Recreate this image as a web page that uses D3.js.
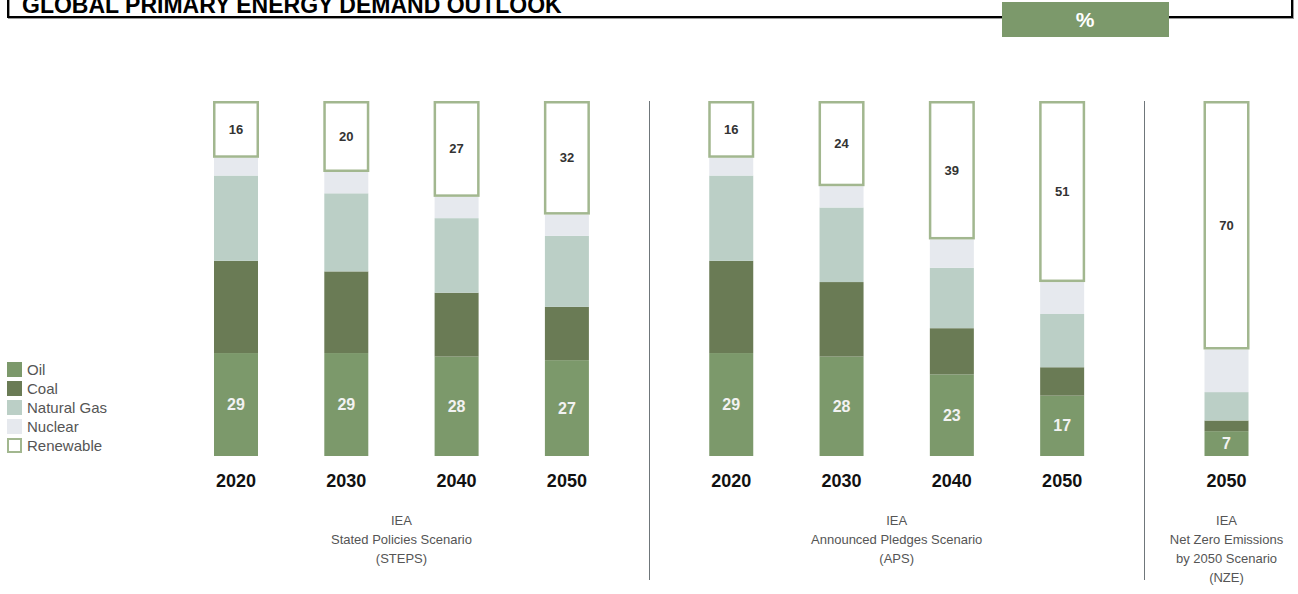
<!DOCTYPE html>
<html>
<head>
<meta charset="utf-8">
<script src="https://cdn.jsdelivr.net/npm/d3@7"></script>
<style>
  body { margin: 0; background: #fff; }
  svg { display: block; font-family: "Liberation Sans", Arial, Helvetica, sans-serif; }
</style>
</head>
<body>
<div id="chart"></div>
<script>
(function () {
   // chart data
   const fuels = ['Oil', 'Coal', 'Natural Gas', 'Nuclear', 'Renewable'];
   const scenarios = ['STEPS', 'APS', 'NZE'];
   const scenarioLabels = [
      ['IEA', 'Stated Policies Scenario', '(STEPS)'],
      ['IEA', 'Announced Pledges Scenario', '(APS)'],
      ['IEA', 'Net Zero Emissions', 'by 2050 Scenario', '(NZE)']
   ];
   const years = [
      ['2020', '2030', '2040', '2050'],
      ['2020', '2030', '2040', '2050'],
      ['2050']
   ];
   // shares per bar, in order Oil, Coal, Natural Gas, Nuclear, Renewable
   const stepsShares = [
      [29, 26, 24, 5, 16],
      [29, 23, 22, 6, 20],
      [28, 18, 21, 6, 27],
      [27, 15, 20, 6, 32]
   ];
   const apsShares = [
      [29, 26, 24, 5, 16],
      [28, 21, 21, 6, 24],
      [23, 13, 17, 8, 39],
      [17, 8, 15, 9, 51]
   ];
   const nzeShares = [
      [7, 3, 8, 12, 70]
   ];
   const shares = [stepsShares, apsShares, nzeShares];

   const colors = ['#7c996b', '#6a7b55', '#bbcfc6', '#e6e9ee', '#ffffff'];
   const renewStroke = '#a2b78f';

   const width = 1298;
   const height = 594;

   const svg = d3.select('#chart')
      .append('svg')
      .attr('width', width)
      .attr('height', height);

   // ---- header strip ----
   svg.append('path')
      .attr('d', 'M9,0V18H1293V0')
      .attr('fill', 'none')
      .attr('stroke', '#999')
      .attr('stroke-width', 2);
   svg.append('path')
      .attr('d', 'M8,0V17H1292V0')
      .attr('fill', 'none')
      .attr('stroke', '#000')
      .attr('stroke-width', 2);
   svg.append('text')
      .attr('x', 22)
      .attr('y', 12.5)
      .attr('font-size', 23)
      .attr('font-weight', 'bold')
      .attr('fill', '#000')
      .text('GLOBAL PRIMARY ENERGY DEMAND OUTLOOK');
   svg.append('rect')
      .attr('x', 1002)
      .attr('y', 2)
      .attr('width', 167)
      .attr('height', 35)
      .attr('fill', '#7c996b');
   svg.append('text')
      .attr('x', 1085)
      .attr('y', 27)
      .attr('text-anchor', 'middle')
      .attr('font-size', 21)
      .attr('font-weight', 'bold')
      .attr('fill', '#fff')
      .text('%');

   // ---- flatten bars with a slot position (extra gap between scenarios) ----
   const groupGap = 1.49;
   const bars = [];
   let slot = 0;
   shares.forEach((group, g) => {
      if (g > 0) slot += groupGap - 1;
      group.forEach((vals, i) => {
         bars.push({ group: g, year: years[g][i], vals: vals, slot: slot });
         slot += 1;
      });
   });
   const lastSlot = bars[bars.length - 1].slot;

   const x = d3.scaleLinear()
      .domain([0, lastSlot])
      .range([236, 1226.5]);
   const y = d3.scaleLinear()
      .domain([0, 100])
      .range([456, 101]);
   const barW = 44;

   // stack each bar
   bars.forEach(b => {
      let acc = 0;
      b.segs = b.vals.map((v, k) => {
         const s = { fuel: k, v: v, y0: acc, y1: acc + v };
         acc += v;
         return s;
      });
   });

   const barG = svg.append('g')
      .selectAll('g')
      .data(bars)
      .join('g')
      .attr('transform', d => `translate(${x(d.slot) - barW / 2},0)`);

   // filled segments (everything except renewable)
   barG.selectAll('rect.seg')
      .data(d => d.segs.filter(s => s.fuel < 4))
      .join('rect')
      .attr('class', 'seg')
      .attr('x', 0)
      .attr('width', barW)
      .attr('y', s => y(s.y1))
      .attr('height', s => y(s.y0) - y(s.y1))
      .attr('fill', s => colors[s.fuel]);

   // renewable outlined box
   barG.selectAll('rect.ren')
      .data(d => d.segs.filter(s => s.fuel === 4))
      .join('rect')
      .attr('class', 'ren')
      .attr('x', 0.25)
      .attr('width', barW - 0.5)
      .attr('y', s => y(s.y1) + 1.25)
      .attr('height', s => y(s.y0) - y(s.y1) - 2.5)
      .attr('fill', '#fff')
      .attr('stroke', renewStroke)
      .attr('stroke-width', 2.5);

   // value labels: oil (white) and renewable (dark)
   barG.append('text')
      .attr('x', barW / 2)
      .attr('y', d => y((d.segs[0].y0 + d.segs[0].y1) / 2) + 5.5)
      .attr('text-anchor', 'middle')
      .attr('font-size', 16)
      .attr('font-weight', 'bold')
      .attr('fill', '#f2f2f2')
      .text(d => d.segs[0].v);
   barG.append('text')
      .attr('x', barW / 2)
      .attr('y', d => y((d.segs[4].y0 + d.segs[4].y1) / 2) + 4.5)
      .attr('text-anchor', 'middle')
      .attr('font-size', 13)
      .attr('font-weight', 'bold')
      .attr('fill', '#333')
      .text(d => d.segs[4].v);

   // year labels
   barG.append('text')
      .attr('x', barW / 2)
      .attr('y', 487)
      .attr('text-anchor', 'middle')
      .attr('font-size', 18)
      .attr('font-weight', 'bold')
      .attr('fill', '#111')
      .text(d => d.year);

   // ---- scenario labels & separators ----
   scenarios.forEach((sc, g) => {
      const gb = bars.filter(b => b.group === g);
      const cx = (x(gb[0].slot) + x(gb[gb.length - 1].slot)) / 2;
      const t = svg.append('text')
         .attr('text-anchor', 'middle')
         .attr('font-size', 13)
         .attr('fill', '#555');
      scenarioLabels[g].forEach((line, li) => {
         t.append('tspan')
            .attr('x', cx)
            .attr('y', 525 + li * 19)
            .text(line);
      });
      if (g > 0) {
         const prev = bars.filter(b => b.group === g - 1);
         const sx = Math.round((x(prev[prev.length - 1].slot) + x(gb[0].slot)) / 2) + 0.5;
         svg.append('line')
            .attr('x1', sx).attr('x2', sx)
            .attr('y1', 101).attr('y2', 580)
            .attr('stroke', '#6f767a')
            .attr('stroke-width', 1);
      }
   });

   // ---- legend ----
   const legend = svg.append('g')
      .selectAll('g')
      .data(fuels)
      .join('g')
      .attr('transform', (d, i) => `translate(7,${362 + i * 19})`);
   legend.append('rect')
      .attr('x', d => d === 'Renewable' ? 1 : 0)
      .attr('y', d => d === 'Renewable' ? 1 : 0)
      .attr('width', d => d === 'Renewable' ? 13 : 15)
      .attr('height', d => d === 'Renewable' ? 13 : 15)
      .attr('fill', (d, i) => colors[i])
      .attr('stroke', d => d === 'Renewable' ? renewStroke : 'none')
      .attr('stroke-width', 2);
   legend.append('text')
      .attr('x', 20)
      .attr('y', 13)
      .attr('font-size', 15)
      .attr('fill', '#555')
      .text(d => d);
})();
</script>
</body>
</html>
